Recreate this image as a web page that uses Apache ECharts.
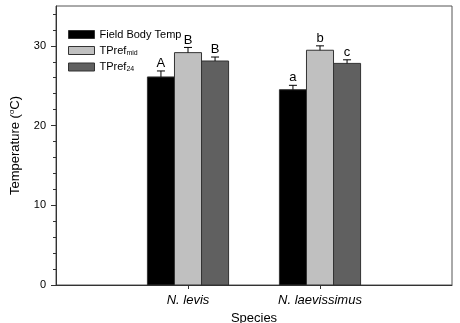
<!DOCTYPE html>
<html>
<head>
<meta charset="utf-8">
<script src="https://cdn.jsdelivr.net/npm/echarts@6/dist/echarts.min.js"></script>
<style>
  html, body { margin: 0; padding: 0; background: #fff; }
  #chart { width: 460px; height: 323px; }
</style>
</head>
<body>
<div id="chart"></div>
<script>
// data
const categories = ['N. levis', 'N. laevissimus'];
const fieldBody = [26.1, 24.5];
const fieldErr = [0.75, 0.55];
const fieldLetters = ['A', 'a'];
const tprefMid = [29.15, 29.45];
const midErr = [0.65, 0.55];
const midLetters = ['B', 'b'];
const tpref24 = [28.1, 27.8];
const err24 = [0.5, 0.45];
const letters24 = ['B', 'c'];
const majorTicks = [0, 10, 20, 30];
const minorTicks = [2, 4, 6, 8, 12, 14, 16, 18, 22, 24, 26, 28, 32, 34];

const FONT = 'Liberation Sans, Arial, sans-serif';
const BAR_W = 0.205; // bar width in x-axis units

var myChart = echarts.init(document.getElementById('chart'));

function barSeries(name, offset, vals, errs, marks, color) {
  return {
    type: 'custom',
    name: name,
    itemStyle: { color: color, borderColor: '#333' },
    data: vals.map((v, i) => [i + 1, v, errs[i]]),
    renderItem: (params, api) => {
      const x = api.value(0), v = api.value(1), e = api.value(2);
      const w = api.size([BAR_W, 0])[0];
      const p = api.coord([x, v]);
      const base = api.coord([x, 0]);
      const top = api.coord([x, v + e]);
      const cx = p[0] + offset * w;
      return {
        type: 'group',
        children: [
          { type: 'rect', shape: { x: cx - w / 2, y: p[1], width: w, height: base[1] - p[1] },
            style: { fill: color, stroke: '#333', lineWidth: 1 } },
          { type: 'line', shape: { x1: cx, y1: p[1], x2: cx, y2: top[1] },
            style: { stroke: '#000', lineWidth: 1 } },
          { type: 'line', shape: { x1: cx - 4, y1: top[1], x2: cx + 4, y2: top[1] },
            style: { stroke: '#000', lineWidth: 1 } },
          { type: 'text', style: { text: marks[params.dataIndex], x: cx, y: top[1] - 1,
            align: 'center', verticalAlign: 'bottom', fontSize: 13, fontFamily: FONT, fill: '#000' } }
        ]
      };
    }
  };
}

let option = {
  animation: false,
  grid: { left: 56, right: 8, top: 6, bottom: 38, outerBoundsMode: 'none', containLabel: false,
    show: true, borderColor: '#555', borderWidth: 1 },
  legend: {
    orient: 'vertical',
    left: 63,
    top: 24,
    itemWidth: 26,
    itemHeight: 8,
    itemGap: 5,
    textStyle: {
      fontSize: 11, fontFamily: FONT, color: '#000',
      rich: {
        m: { fontSize: 11, fontFamily: FONT, color: '#000' },
        s: { fontSize: 7, fontFamily: FONT, color: '#000', verticalAlign: 'bottom', padding: [5, 0, 0, 0] }
      }
    },
    formatter: name => {
      if (name === 'TPref_mid') return '{m|TPref}{s|mid}';
      if (name === 'TPref_24') return '{m|TPref}{s|24}';
      return name;
    },
    data: [
      { name: 'Field Body Temp', icon: 'rect', itemStyle: { color: '#000', borderColor: '#333', borderWidth: 1 } },
      { name: 'TPref_mid', icon: 'rect', itemStyle: { color: '#c0c0c0', borderColor: '#333', borderWidth: 1 } },
      { name: 'TPref_24', icon: 'rect', itemStyle: { color: '#606060', borderColor: '#333', borderWidth: 1 } }
    ]
  },
  xAxis: {
    type: 'value',
    min: 0,
    max: 3,
    name: 'Species',
    nameLocation: 'middle',
    nameGap: 26,
    nameTextStyle: { fontSize: 13, fontFamily: FONT, color: '#000' },
    axisLine: { lineStyle: { color: '#333' } },
    axisTick: { show: true, customValues: [1, 2], length: 4, lineStyle: { color: '#333' } },
    axisLabel: {
      customValues: [1, 2],
      formatter: v => categories[v - 1] || '',
      fontSize: 13, fontStyle: 'italic', fontFamily: FONT, color: '#000', margin: 9
    },
    splitLine: { show: false }
  },
  yAxis: [
    {
      type: 'value',
      min: 0,
      max: 35,
      interval: 10,
      name: '{t|Temperature (}{o|o}{t|C)}',
      nameLocation: 'middle',
      nameGap: 34,
      nameTextStyle: {
        rich: {
          t: { fontSize: 13, fontFamily: FONT, color: '#000' },
          o: { fontSize: 8, fontFamily: FONT, color: '#000', verticalAlign: 'top', padding: [0, 0, 6, 0] }
        }
      },
      axisLine: { show: true, lineStyle: { color: '#333' } },
      axisTick: { show: true, customValues: majorTicks, length: 5, lineStyle: { color: '#333' } },
      axisLabel: { customValues: majorTicks, fontSize: 11, fontFamily: FONT, color: '#000', margin: 10 },
      splitLine: { show: false }
    },
    {
      type: 'value',
      position: 'left',
      min: 0,
      max: 35,
      interval: 10,
      axisLine: { show: false },
      axisTick: { show: true, customValues: minorTicks, length: 3, lineStyle: { color: '#333' } },
      axisLabel: { show: false },
      splitLine: { show: false }
    }
  ],
  series: [
    barSeries('Field Body Temp', -1, fieldBody, fieldErr, fieldLetters, '#000'),
    barSeries('TPref_mid', 0, tprefMid, midErr, midLetters, '#c0c0c0'),
    barSeries('TPref_24', 1, tpref24, err24, letters24, '#606060')
  ]
};
myChart.setOption(option);
</script>
</body>
</html>
